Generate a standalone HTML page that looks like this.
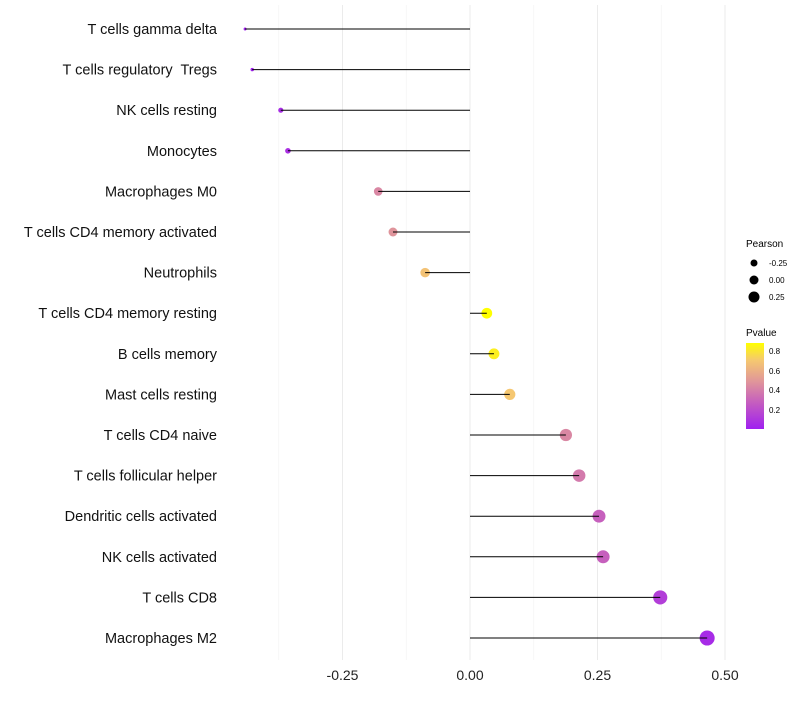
<!DOCTYPE html>
<html><head><meta charset="utf-8"><style>
body{margin:0;background:#fff;font-family:"Liberation Sans",sans-serif}
text{white-space:pre}
</style></head><body>
<svg id="c" width="800" height="700" xmlns="http://www.w3.org/2000/svg">
<defs><linearGradient id="pg" x1="0" y1="1" x2="0" y2="0">
<stop offset="0" stop-color="#a020f0"/><stop offset="0.3" stop-color="#c45cc0"/><stop offset="0.55" stop-color="#e0959a"/><stop offset="0.8" stop-color="#f5c870"/><stop offset="1" stop-color="#ffff00"/></linearGradient></defs>
<g id="grid"></g><g id="marks"></g><g id="stems"></g><g id="axes"></g>
<g font-size="10">
<text x="746" y="247" fill="#000">Pearson</text>
<circle cx="754" cy="263" r="3.5" fill="#000"/><text x="769" y="266" font-size="8">-0.25</text>
<circle cx="754" cy="280" r="4.5" fill="#000"/><text x="769" y="283" font-size="8">0.00</text>
<circle cx="754" cy="297" r="5.5" fill="#000"/><text x="769" y="300" font-size="8">0.25</text>
<text x="746" y="336">Pvalue</text>
<rect x="746" y="343" width="18" height="86" fill="url(#pg)"/>
<text x="769" y="354" font-size="8">0.8</text><text x="769" y="374" font-size="8">0.6</text>
<text x="769" y="393" font-size="8">0.4</text><text x="769" y="413" font-size="8">0.2</text>
</g>
</svg>
<script>
const categories=["T cells gamma delta","T cells regulatory  Tregs","NK cells resting","Monocytes","Macrophages M0","T cells CD4 memory activated","Neutrophils","T cells CD4 memory resting","B cells memory","Mast cells resting","T cells CD4 naive","T cells follicular helper","Dendritic cells activated","NK cells activated","T cells CD8","Macrophages M2"];
const pearson=[-0.441,-0.427,-0.371,-0.357,-0.180,-0.151,-0.088,0.033,0.047,0.078,0.188,0.214,0.253,0.261,0.373,0.465];
const pvalue=[0.02,0.03,0.08,0.09,0.45,0.5,0.7,0.9,0.85,0.72,0.45,0.4,0.3,0.3,0.15,0.07];
const xTicks=[-0.25,0,0.25,0.5];
const xTickLabels=["-0.25","0.00","0.25","0.50"];
const xMinor=[-0.375,-0.125,0.125,0.375];
const NS="http://www.w3.org/2000/svg";
const X=v=>470+v*510;
const Y=i=>29+i*40.6;
const R=v=>v>-0.3?5.2+5*v:Math.max(1.3,3.7+15.7*(v+0.3));
function lerp(a,b,t){return a.map((x,k)=>Math.round(x+(b[k]-x)*t));}
const stops=[[0,[160,32,240]],[0.3,[196,92,192]],[0.55,[224,149,154]],[0.8,[245,200,112]],[1,[255,255,0]]];
function col(p){let t=Math.min(1,Math.max(0,(p-0.02)/0.88));for(let k=1;k<stops.length;k++){if(t<=stops[k][0]){const a=stops[k-1],b=stops[k];const c=lerp(a[1],b[1],(t-a[0])/(b[0]-a[0]));return `rgb(${c})`;}}return 'rgb(255,255,0)';}
function mk(tag,at,parent){const e=document.createElementNS(NS,tag);for(const k in at)e.setAttribute(k,at[k]);parent.appendChild(e);return e;}
const g=document.getElementById('grid'),m=document.getElementById('marks'),s=document.getElementById('stems'),ax=document.getElementById('axes');
xMinor.forEach(v=>{const l=mk('line',{x1:X(v),x2:X(v),y1:5,y2:660,stroke:'#f2f2f2','stroke-width':0.6},g);

});
xTicks.forEach((v,i)=>{const l=mk('line',{x1:X(v),x2:X(v),y1:5,y2:660,stroke:'#ebebeb','stroke-width':1},g);


const t=mk('text',{x:X(v),y:680,'text-anchor':'middle','font-size':14,fill:'#222'},ax);t.textContent=xTickLabels[i];

});
categories.forEach((c,i)=>{const y=Y(i);
const t=mk('text',{x:217,y:y+5,'text-anchor':'end','font-size':14.5,fill:'#111'},ax);t.textContent=c;


const p=mk('circle',{cx:X(pearson[i]),cy:y,r:R(pearson[i]),fill:col(pvalue[i])},m);


const l=mk('line',{x1:X(0),x2:X(pearson[i]),y1:y,y2:y,stroke:'#000','stroke-width':1},s);

});
</script>
</body></html>
